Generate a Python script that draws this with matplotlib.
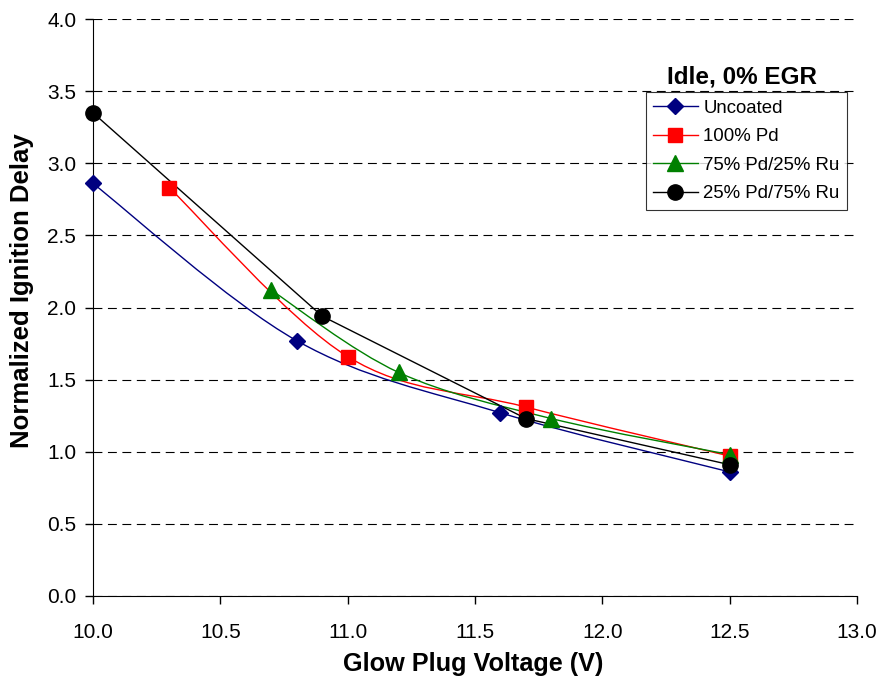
import numpy as np
import matplotlib.pyplot as plt
from matplotlib.path import Path
from matplotlib.patches import PathPatch
from matplotlib.lines import Line2D

plt.rcParams['font.family'] = ['Liberation Sans', 'DejaVu Sans']

# data
uncoated_v = [10.0, 10.8, 11.6, 12.5]
uncoated_d = [2.86, 1.77, 1.27, 0.86]
pd100_v = [10.3, 11.0, 11.7, 12.5]
pd100_d = [2.83, 1.66, 1.31, 0.97]
pd75_v = [10.7, 11.2, 11.8, 12.5]
pd75_d = [2.12, 1.55, 1.23, 0.98]
pd25_v = [10.0, 10.9, 11.7, 12.5]
pd25_d = [3.35, 1.94, 1.23, 0.91]

# name, x, y, colour, marker, marker size, smoothed line?
series = [
    ("Uncoated", uncoated_v, uncoated_d, "#000080", "D", 8.5, True),
    ("100% Pd", pd100_v, pd100_d, "#ff0000", "s", 10.5, True),
    ("75% Pd/25% Ru", pd75_v, pd75_d, "#008000", "^", 11.5, True),
    ("25% Pd/75% Ru", pd25_v, pd25_d, "#000000", "o", 11, False),
]


def smooth_path(x, y):
    # Excel-style smoothed line as cubic bezier segments
    pts = np.column_stack([x, y])
    n = len(pts)
    verts = [pts[0]]
    codes = [Path.MOVETO]
    for i in range(n - 1):
        p0 = pts[i - 1] if i > 0 else pts[i]
        p1 = pts[i]
        p2 = pts[i + 1]
        p3 = pts[i + 2] if i + 2 < n else pts[i + 1]
        c1 = p1 + (p2 - p0) / 6.0
        c2 = p2 - (p3 - p1) / 6.0
        verts += [c1, c2, p2]
        codes += [Path.CURVE4] * 3
    return Path(verts, codes)


fig = plt.figure(figsize=(8.82, 6.87), dpi=100)
ax = fig.add_axes([0.1054, 0.1325, 0.8663, 0.8398])

handles = []
for name, xv, yv, col, mk, ms, smooth in series:
    if smooth:
        ax.add_patch(PathPatch(smooth_path(xv, yv), fill=False, edgecolor=col, lw=1.0, zorder=3))
    else:
        ax.plot(xv, yv, color=col, lw=1.0, zorder=3)
    ax.plot(xv, yv, linestyle="none", marker=mk, color=col, markersize=ms, zorder=4, clip_on=False)
    handles.append(Line2D([], [], color=col, lw=1.0, marker=mk, markersize=ms, label=name))

ax.set_xlim(10.0, 13.0)
ax.set_ylim(0.0, 4.0)
ax.set_xticks(np.arange(10.0, 13.01, 0.5))
ax.set_yticks(np.arange(0.0, 4.01, 0.5))
ax.xaxis.set_major_formatter(plt.FormatStrFormatter("%.1f"))
ax.yaxis.set_major_formatter(plt.FormatStrFormatter("%.1f"))
ax.tick_params(labelsize=15, direction="out", length=6, width=1)
ax.tick_params(axis="x", pad=13.5)
ax.tick_params(axis="y", pad=6)

ax.yaxis.grid(True, color="black", linestyle=(0, (8, 5)), linewidth=0.8)
ax.set_axisbelow(True)
for s in ["top", "right"]:
    ax.spines[s].set_visible(False)

ax.set_xlabel("Glow Plug Voltage (V)", fontsize=18.2, fontweight="bold")
ax.set_ylabel("Normalized Ignition Delay", fontsize=18.5, fontweight="bold")
ax.xaxis.set_label_coords(0.497, -0.0975)
ax.yaxis.set_label_coords(-0.093, 0.5286)
ax.yaxis.label.set_va("center")
ax.xaxis.label.set_va("top")

leg = fig.legend(handles=handles, loc="upper right", bbox_to_anchor=(0.9603, 0.866),
                 fontsize=13.4, frameon=True, fancybox=False, edgecolor="black",
                 handlelength=2.4, handletextpad=0.3, borderpad=0.4, labelspacing=0.62,
                 borderaxespad=0)
leg.get_frame().set_linewidth(0.8)
fig.text(0.841, 0.888, "Idle, 0% EGR", fontsize=17.5, fontweight="bold", ha="center", va="center")

fig.savefig("out.png", dpi=100)
